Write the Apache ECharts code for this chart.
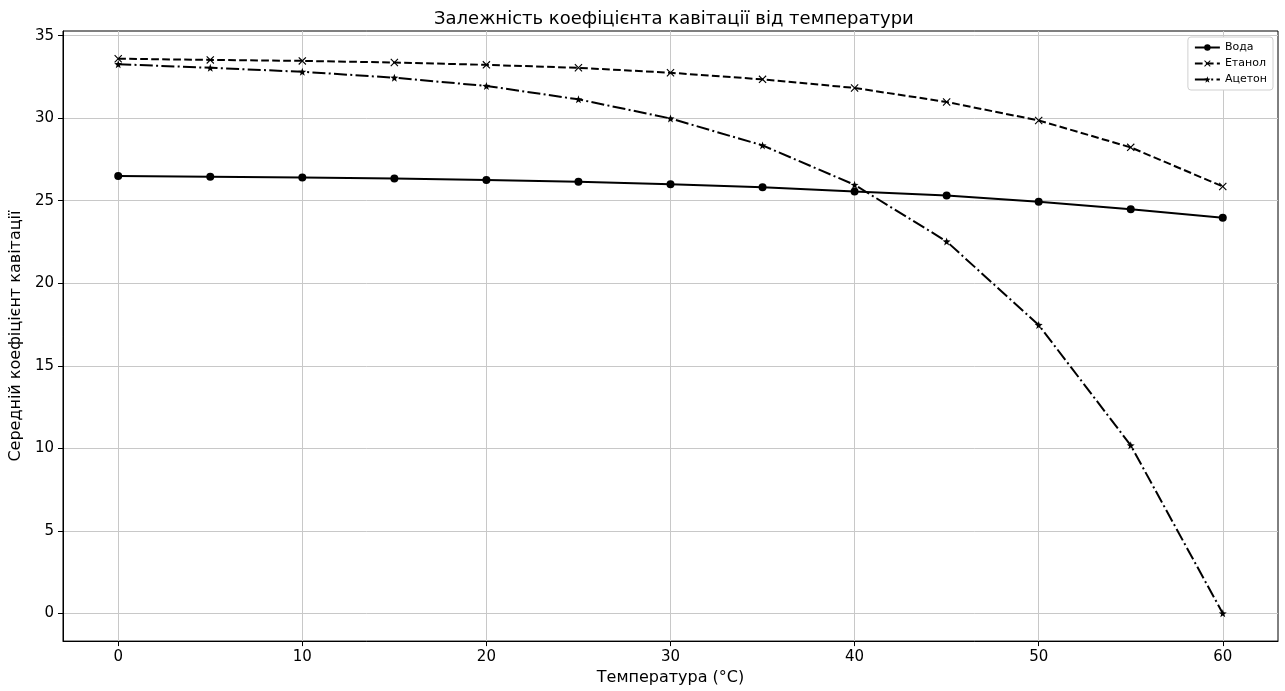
<!DOCTYPE html>
<html><head><meta charset="utf-8">
<script src="https://cdn.jsdelivr.net/npm/echarts@6/dist/echarts.min.js"></script>
<style>html,body{margin:0;padding:0;background:#fff}#c{width:1285px;height:691px}</style>
</head><body><div id="c"></div>
<script>
const temps = [0,5,10,15,20,25,30,35,40,45,50,55,60];
const voda = [26.5,26.45,26.4,26.35,26.25,26.15,26.0,25.82,25.56,25.32,24.94,24.48,23.96];
const etanol = [33.6,33.53,33.47,33.37,33.23,33.05,32.75,32.35,31.83,30.98,29.86,28.23,25.86];
const aceton = [33.27,33.05,32.81,32.45,31.95,31.14,29.98,28.35,25.96,22.53,17.47,10.18,0.0];
const xTicks = [0,10,20,30,40,50,60];
const yTicks = [0,5,10,15,20,25,30,35];
const names = ['Вода','Етанол','Ацетон'];
const title = 'Залежність коефіцієнта кавітації від температури';
const xName = 'Температура (°C)';
const yName = 'Середній коефіцієнт кавітації';

const FONT = 'DejaVu Sans';
const crossPath = 'path://M0,1 L1,0 L5,4 L9,0 L10,1 L6,5 L10,9 L9,10 L5,6 L1,10 L0,9 L4,5 Z';
const starPath = 'path://M5,0 L6.2,3.5 L10,3.8 L7,6.1 L8.1,9.8 L5,7.6 L1.9,9.8 L3,6.1 L0,3.8 L3.8,3.5 Z';
const pair = arr => temps.map((t,i)=>[t,arr[i]]);

const chart = echarts.init(document.getElementById('c'), null, {renderer:'canvas'});
chart.setOption({
  animation:false,
  backgroundColor:'#fff',
  textStyle:{fontFamily:FONT},
  title:{text:title,left:429,top:5,textStyle:{fontFamily:FONT,fontSize:18,fontWeight:'normal',color:'#000'}},
  legend:{
    orient:'vertical',right:12,top:37,
    backgroundColor:'#fff',borderColor:'#d0d0d0',borderWidth:1,borderRadius:3,
    padding:[5,6,5,6],itemGap:5,itemWidth:25,itemHeight:8,
    textStyle:{fontFamily:FONT,fontSize:11,color:'#000'},
    data:names
  },
  grid:{left:62,right:7,top:31,bottom:47,show:true,borderColor:'#000',borderWidth:1,containLabel:false},
  xAxis:{
    type:'value',min:-3,max:63,
    name:xName,nameLocation:'middle',nameGap:27,
    nameTextStyle:{fontFamily:FONT,fontSize:16,color:'#000'},
    axisLine:{show:true,onZero:false,lineStyle:{color:'#000'}},
    axisTick:{show:true,inside:false,length:5,lineStyle:{color:'#000'},customValues:xTicks},
    axisLabel:{customValues:xTicks,fontFamily:FONT,fontSize:15,color:'#000',margin:9},
    splitLine:{show:true,lineStyle:{color:'#c8c8c8',width:1}}
  },
  yAxis:{
    type:'value',min:-1.68,max:35.28,
    name:yName,nameLocation:'middle',nameGap:28,nameRotate:90,
    nameTextStyle:{fontFamily:FONT,fontSize:16,color:'#000'},
    axisLine:{show:true,onZero:false,lineStyle:{color:'#000'}},
    axisTick:{show:true,inside:false,length:5,lineStyle:{color:'#000'},customValues:yTicks},
    axisLabel:{customValues:yTicks,fontFamily:FONT,fontSize:15,color:'#000',margin:9},
    splitLine:{show:true,lineStyle:{color:'#c8c8c8',width:1}}
  },
  series:[
    {name:names[0],type:'line',data:pair(voda),symbol:'circle',symbolSize:8,
     lineStyle:{color:'#000',width:2,type:'solid'},itemStyle:{color:'#000'}},
    {name:names[1],type:'line',data:pair(etanol),symbol:crossPath,symbolSize:8,
     lineStyle:{color:'#000',width:2,type:[7.7,3.3]},itemStyle:{color:'#000'}},
    {name:names[2],type:'line',data:pair(aceton),symbol:starPath,symbolSize:8,
     lineStyle:{color:'#000',width:2,type:[13,3.3,2,3.3]},itemStyle:{color:'#000'}}
  ]
});
</script></body></html>
